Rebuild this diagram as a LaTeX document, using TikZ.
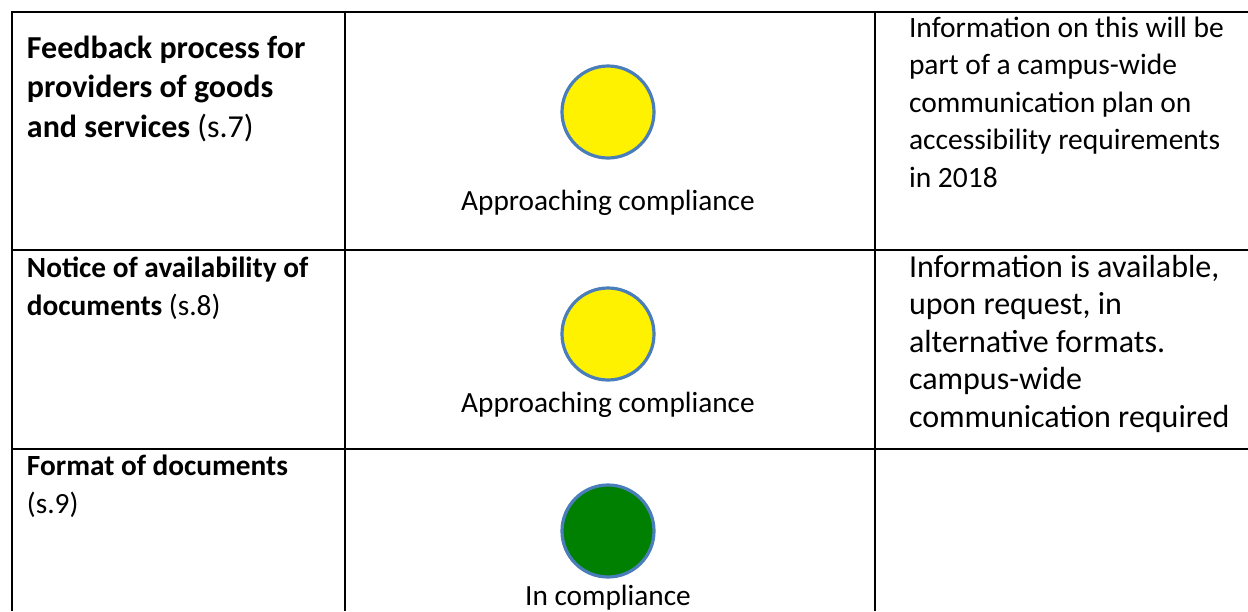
\documentclass[tikz,border=0pt]{standalone}
\usepackage{fontspec}
\setmainfont{Carlito}
\newdimen\unit
\tikzset{unit/.code={\unit=\dimexpr#1\relax}}
\tikzset{xy/.style={x={#1},y={-#1},unit={#1},font={\fontsize{29.3\unit}{38.5\unit}\selectfont},line width=2\unit}}
% multi-line cells are placed by the baseline of their last line
\tikzset{cell/.style={anchor=base west,inner sep=0pt,align=left}}
\tikzset{note/.style={cell,font={\fontsize{#1\unit}{37.5\unit}\selectfont}}}
\tikzset{lamp/.style={circle,draw={rgb,255:red,74;green,126;blue,187},line width=3.2\unit,fill=#1,minimum size=92\unit,inner sep=0pt}}
\definecolor{lampgreen}{RGB}{0,128,0}

\begin{document}
\begin{tikzpicture}[xy=1pt]%
    \path [use as bounding box] (0,0) rectangle (1248,611);
    \path [draw] (12,611) -- (12,12) -- (1248,12);
    \foreach \x in {345,875} {
        \path [draw] (\x,12) -- (\x,611);
    }
    \foreach \y in {250,449} {
        \path [draw] (12,\y) -- (1248,\y);
    }
    % first column
    \path (26,137) node [cell,font={\fontsize{32\unit}{39.5\unit}\selectfont}] (name7) {\textbf{Feedback process for}\\\textbf{providers of goods}\\\textbf{and services} (s.7)};
    \path (26,315) node [cell,font={\fontsize{29.3\unit}{37.5\unit}\selectfont}] (name8) {\textbf{Notice of availability of}\\\textbf{documents} (s.8)};
    \path (26,513) node [cell,font={\fontsize{29.3\unit}{38\unit}\selectfont}] (name9) {\textbf{Format of documents}\\(s.9)};
    % status column
    \path (608,112) node [lamp=yellow] (lamp7) {};
    \path (608,210) node [anchor=base] (state7) {Approaching compliance};
    \path (608,334) node [lamp=yellow] (lamp8) {};
    \path (608,412) node [anchor=base] (state8) {Approaching compliance};
    \path (608,531) node [lamp=lampgreen] (lamp9) {};
    \path (608,605) node [anchor=base] (state9) {In compliance};
    % comment column
    \path (908,187) node [note=29.5] (note7) {Information on this will be\\part of a campus-wide\\communication plan on\\accessibility requirements\\in 2018};
    \path (908,427) node [note=32] (note8) {Information is available,\\upon request, in\\alternative formats.\\campus-wide\\communication required};
\end{tikzpicture}
\end{document}
